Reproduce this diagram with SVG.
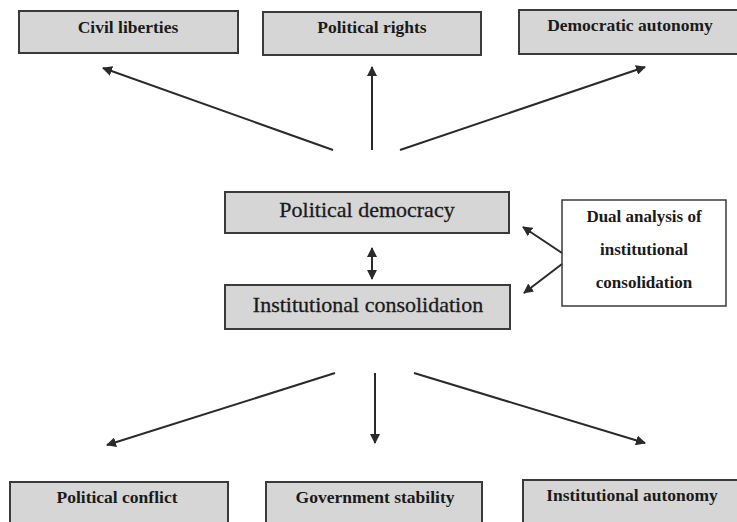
<svg xmlns="http://www.w3.org/2000/svg" width="737" height="522" viewBox="0 0 737 522">
<style>
.box{fill:#d6d6d6;stroke:#3a3a3a;stroke-width:2}
.wbox{fill:#ffffff;stroke:#3a3a3a;stroke-width:1.5}
.t{font-family:"Liberation Serif","Times New Roman",serif;fill:#1a1a1a;text-anchor:middle}
.s{font-size:17.5px;font-weight:bold}
.m{font-size:22px;stroke:#1a1a1a;stroke-width:0.3}
.d{font-size:17px;font-weight:bold}
.c{stroke:#2a2a2a;stroke-width:2;fill:none}
</style>
<defs>
<marker id="ah" viewBox="0 0 10 10" refX="9" refY="5" markerWidth="5" markerHeight="5" orient="auto-start-reverse" markerUnits="strokeWidth">
<path d="M0,0 L10,5 L0,10 z" fill="#2a2a2a"/>
</marker>
</defs>
<rect width="737" height="522" fill="#ffffff"/>
<g id="civil-liberties"><rect class="box" x="19" y="11" width="219" height="42"/><text class="t s" x="128" y="33">Civil liberties</text></g>
<g id="political-rights"><rect class="box" x="263" y="12" width="218" height="43"/><text class="t s" x="372" y="33">Political rights</text></g>
<g id="democratic-autonomy"><rect class="box" x="519" y="10" width="222" height="44"/><text class="t s" x="630" y="31">Democratic autonomy</text></g>
<g id="political-democracy"><rect class="box" x="225" y="192" width="284" height="41"/><text class="t m" x="367" y="217">Political democracy</text></g>
<g id="institutional-consolidation"><rect class="box" x="225" y="285" width="285" height="44"/><text class="t m" x="368" y="312">Institutional consolidation</text></g>
<g id="dual-analysis"><rect class="wbox" x="562" y="200" width="164" height="106"/><text class="t d" x="644" y="222">Dual analysis of</text><text class="t d" x="644" y="255">institutional</text><text class="t d" x="644" y="288">consolidation</text></g>
<g id="political-conflict"><rect class="box" x="10" y="482" width="218" height="44"/><text class="t s" x="117" y="503">Political conflict</text></g>
<g id="government-stability"><rect class="box" x="266" y="482" width="216" height="44"/><text class="t s" x="375" y="503">Government stability</text></g>
<g id="institutional-autonomy"><rect class="box" x="523" y="480" width="218" height="46"/><text class="t s" x="632" y="501">Institutional autonomy</text></g>
<g id="connectors">
<line class="c" x1="333" y1="150" x2="103" y2="68" marker-end="url(#ah)"/>
<line class="c" x1="372" y1="150" x2="372" y2="67" marker-end="url(#ah)"/>
<line class="c" x1="400" y1="150" x2="645" y2="67" marker-end="url(#ah)"/>
<line class="c" x1="372" y1="248" x2="372" y2="279" marker-start="url(#ah)" marker-end="url(#ah)"/>
<line class="c" x1="562" y1="253" x2="523" y2="227" marker-end="url(#ah)"/>
<line class="c" x1="562" y1="264" x2="524" y2="293" marker-end="url(#ah)"/>
<line class="c" x1="335" y1="373" x2="107" y2="445" marker-end="url(#ah)"/>
<line class="c" x1="375" y1="373" x2="375" y2="443" marker-end="url(#ah)"/>
<line class="c" x1="414" y1="373" x2="645" y2="443" marker-end="url(#ah)"/>
</g>
</svg>
